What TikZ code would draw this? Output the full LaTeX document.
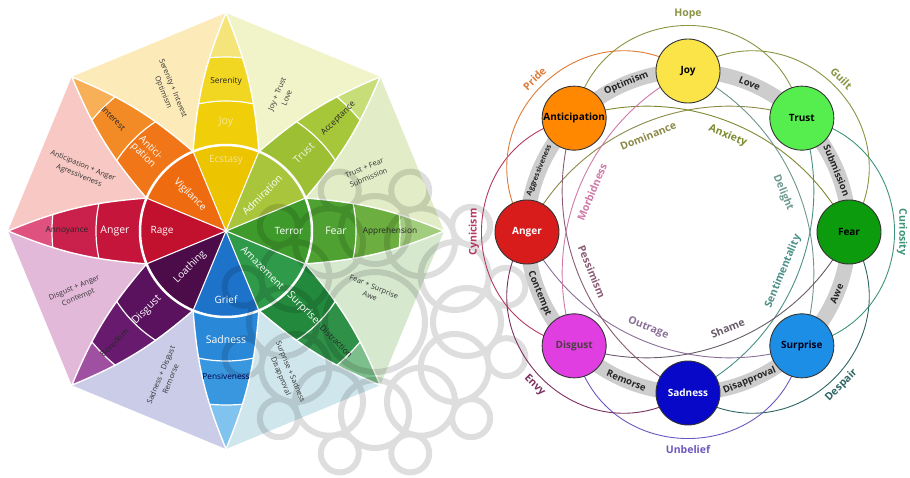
\documentclass[tikz,border=0pt]{standalone}
\usepackage{fontspec}
\setmainfont{Open Sans}
% left wheel colours
\definecolor{jA}{HTML}{ECC400}\definecolor{jB}{HTML}{F0CF0A}\definecolor{jC}{HTML}{F2D722}\definecolor{jD}{HTML}{F4E47A}
\definecolor{tA}{HTML}{A9C53C}\definecolor{tB}{HTML}{9DBF33}\definecolor{tC}{HTML}{A7C73B}\definecolor{tD}{HTML}{C7DD78}
\definecolor{fA}{HTML}{3F9A2C}\definecolor{fB}{HTML}{4FA232}\definecolor{fC}{HTML}{6CAF40}\definecolor{fD}{HTML}{A2CD7C}
\definecolor{sA}{HTML}{2F9A4A}\definecolor{sB}{HTML}{23893D}\definecolor{sC}{HTML}{2F9048}\definecolor{sD}{HTML}{7DBF8C}
\definecolor{saA}{HTML}{1D72C9}\definecolor{saB}{HTML}{2A88D8}\definecolor{saC}{HTML}{3997E0}\definecolor{saD}{HTML}{80C3EE}
\definecolor{dA}{HTML}{4B0C49}\definecolor{dB}{HTML}{5A115E}\definecolor{dC}{HTML}{681B6E}\definecolor{dD}{HTML}{A050A0}
\definecolor{aA}{HTML}{C2112E}\definecolor{aB}{HTML}{C5153B}\definecolor{aC}{HTML}{CA214C}\definecolor{aD}{HTML}{DF5280}
\definecolor{nA}{HTML}{EE6B10}\definecolor{nB}{HTML}{F07617}\definecolor{nC}{HTML}{F28B25}\definecolor{nD}{HTML}{F7B058}
\definecolor{triOpt}{HTML}{FCEBB8}\definecolor{triLove}{HTML}{F1F4C9}\definecolor{triSub}{HTML}{E2EDC7}\definecolor{triAwe}{HTML}{D6E9CF}
\definecolor{triDis}{HTML}{CFE6EC}\definecolor{triRem}{HTML}{CACCE8}\definecolor{triCon}{HTML}{E2B9D8}\definecolor{triAgg}{HTML}{F8C9C4}
% right diagram colours
\definecolor{cJoy}{HTML}{FAE448}\definecolor{cTrust}{HTML}{56EE4E}\definecolor{cFear}{HTML}{0C9B0C}\definecolor{cSurprise}{HTML}{1C8EE6}
\definecolor{cSadness}{HTML}{0808C8}\definecolor{cDisgust}{HTML}{E03EE0}\definecolor{cAnger}{HTML}{D81C1C}\definecolor{cAntic}{HTML}{FF8800}
\definecolor{bandgray}{HTML}{CDCDCD}
\definecolor{kHope}{HTML}{8A9444}\definecolor{kGuilt}{HTML}{8A9444}\definecolor{kCurio}{HTML}{3E9478}\definecolor{kDespair}{HTML}{2E6664}
\definecolor{kUnbel}{HTML}{6E58C0}\definecolor{kEnvy}{HTML}{7A3060}\definecolor{kCyn}{HTML}{B43A62}\definecolor{kPride}{HTML}{E07A38}
\definecolor{kDom}{HTML}{8C8A48}\definecolor{kAnx}{HTML}{7E8A30}\definecolor{kDel}{HTML}{6E9A90}\definecolor{kSent}{HTML}{4A9088}
\definecolor{kShame}{HTML}{6A5C6A}\definecolor{kOut}{HTML}{8A7098}\definecolor{kPess}{HTML}{8C5C74}\definecolor{kMorb}{HTML}{D07AA8}
\newcommand\wpetal[5]{%
  \begin{scope}
    \clip (0,0) -- ({#1-22.5}:86) to[bend right=9] (#1:218) to[bend right=9] ({#1+22.5}:86) -- cycle;
    \fill[#5] (0,0) circle (230);
    \fill[#4] (0,0) circle (174);
    \fill[#3] (0,0) circle (130);
    \fill[#2] (0,0) circle (86);
    \draw[white, line width=1.2] (0,0) circle (130) (0,0) circle (174);
  \end{scope}
  \draw[white, line width=1.4] ({#1-22.5}:86) to[bend right=9] (#1:218) to[bend right=9] ({#1+22.5}:86);
}
\begin{document}
\begin{tikzpicture}[x=1pt,y=1pt,
  wl/.style={inner sep=0pt, text=white, font=\fontsize{10}{10}\selectfont},
  wm/.style={inner sep=0pt, text=white, font=\fontsize{10.5}{10.5}\selectfont},
  wd/.style={inner sep=0pt, text=black!85, font=\fontsize{8.3}{8.3}\selectfont},
  tri/.style={inner sep=0pt, text=black!80, align=center, font=\fontsize{7.4}{10.5}\selectfont},
  emo/.style={circle, draw=black!80, line width=0.9, minimum size=64pt, inner sep=0pt, font=\bfseries\fontsize{10}{10}\selectfont},
  bandline/.style={line width=15pt, bandgray},
  bandlbl/.style={inner sep=0pt, text=black!85, font=\bfseries\fontsize{9.5}{9.5}\selectfont},
  dlbl/.style={inner sep=0pt, font=\bfseries\fontsize{10.5}{10.5}\selectfont},
  obend/.style={bend left=78.6, looseness=1.42},
  ibend/.style={bend left=41.3, looseness=0.972},
  arcline/.style={line width=0.9pt}
]
\useasboundingbox (0,0) rectangle (910,477);
\fill[white] (0,0) rectangle (910,477);

% ---------- left wheel ----------
\begin{scope}[shift={(226,246)}]
  \fill[triOpt]  (0,0) -- (135:218) -- (90:218) -- cycle;
  \fill[triLove] (0,0) -- (90:218) -- (45:218) -- cycle;
  \fill[triSub]  (0,0) -- (45:218) -- (0:218) -- cycle;
  \fill[triAwe]  (0,0) -- (0:218) -- (-45:218) -- cycle;
  \fill[triDis]  (0,0) -- (-45:218) -- (-90:218) -- cycle;
  \fill[triRem]  (0,0) -- (-90:218) -- (-135:218) -- cycle;
  \fill[triCon]  (0,0) -- (-135:218) -- (180:218) -- cycle;
  \fill[triAgg]  (0,0) -- (180:218) -- (135:218) -- cycle;
  \wpetal{90}{jA}{jB}{jC}{jD}
  \wpetal{45}{tA}{tB}{tC}{tD}
  \wpetal{0}{fA}{fB}{fC}{fD}
  \wpetal{-45}{sA}{sB}{sC}{sD}
  \wpetal{-90}{saA}{saB}{saC}{saD}
  \wpetal{-135}{dA}{dB}{dC}{dD}
  \wpetal{180}{aA}{aB}{aC}{aD}
  \wpetal{135}{nA}{nB}{nC}{nD}
  \foreach \a in {22.5,67.5,...,337.5} { \draw[white, line width=1.1] (0,0) -- (\a:86); }
  \draw[white, line width=2.5] (0,0) circle (86);
\end{scope}

% ---------- watermark ornament (semi-transparent, one stroke) ----------
\begin{scope}[shift={(375,155)}]
  \draw[black, draw opacity=0.13, line width=6pt]
    (0,0) circle (50)
    \foreach \k in {0,30,...,330} { (\k:92) circle (34) }
    \foreach \k in {15,45,...,345} { (\k:136) circle (19) };
\end{scope}

\begin{scope}[shift={(226,246)}]
  % petal labels
  \node[wl, text opacity=.55] (lEcs) at (90:71) {Ecstasy};
  \node[wm, text opacity=.55] (lJoy) at (90:109) {Joy};
  \node[wd] (lSer) at (90:150) {Serenity};
  \node[wl, rotate=45] (lAdm) at (45:51) {Admiration};
  \node[wm, rotate=45, text opacity=.85] (lTru) at (45:110) {Trust};
  \node[wd, rotate=45] (lAcc) at (45:159) {Acceptance};
  \node[wl] (lTer) at (0:63) {Terror};
  \node[wm] (lFea) at (0:110) {Fear};
  \node[wd] (lApp) at (0:164) {Apprehension};
  \node[wl, rotate=-45] (lAma) at (-45:52) {Amazement};
  \node[wm, rotate=-45] (lSur) at (-45:109) {Surprise};
  \node[wd, rotate=-45] (lDis) at (-45:156) {Distraction};
  \node[wl] (lGri) at (-90:69) {Grief};
  \node[wm] (lSad) at (-90:109) {Sadness};
  \node[wd, text=blue!30!black] (lPen) at (-90:145) {Pensiveness};
  \node[wl, rotate=45] (lLoa) at (-135:51) {Loathing};
  \node[wm, rotate=45] (lDsg) at (-135:112) {Disgust};
  \node[wd, rotate=45] (lBor) at (-135:158) {Boredom};
  \node[wl] (lRag) at (180:64) {Rage};
  \node[wm] (lAng) at (180:111) {Anger};
  \node[wd] (lAnn) at (180:159) {Annoyance};
  \node[wl, rotate=-45] (lVig) at (135:51) {Vigilance};
  \node[wm, rotate=-45, align=center, font=\fontsize{10}{10.5}\selectfont] (lAnt) at (135:112) {Antici-\\pation};
  \node[wd, rotate=-45] (lInt) at (135:159) {Interest};
  % dyad labels
  \node[tri, rotate=-67.5] (tOpt) at (112.5:152) {Serenity + Interest\\Optimism};
  \node[tri, rotate=67.5] (tLov) at (67.5:146) {Joy + Trust\\Love};
  \node[tri, rotate=22.5] (tSub) at (22.5:152) {Trust + Fear\\Submission};
  \node[tri, rotate=-22.5] (tAwe) at (-22.5:158) {Fear + Surprise\\Awe};
  \node[tri, rotate=-67.5] (tDis) at (-67.5:155) {Surprise + Sadness\\Disapproval};
  \node[tri, rotate=67.5] (tRem) at (-112.5:158) {Sadness + Disgust\\Remorse};
  \node[tri, rotate=22.5] (tCon) at (-157.5:162) {Disgust + Anger\\Contempt};
  \node[tri, rotate=-22.5] (tAgg) at (157.5:157) {Anticipation + Anger\\Agressiveness};
\end{scope}

% ---------- right diagram ----------
\begin{scope}[shift={(688,245)}]
  \coordinate (pJoy) at (90:161);
  \coordinate (pTrust) at (45:161);
  \coordinate (pFear) at (0:161);
  \coordinate (pSurprise) at (-45:161);
  \coordinate (pSadness) at (-90:161);
  \coordinate (pDisgust) at (-135:161);
  \coordinate (pAnger) at (180:161);
  \coordinate (pAntic) at (135:161);
  % outer (secondary) dyads
  \draw[arcline, kHope] (pAntic) to[obend] (pTrust);
  \draw[arcline, kGuilt] (pJoy) to[obend] (pFear);
  \draw[arcline, kCurio] (pTrust) to[obend] (pSurprise);
  \draw[arcline, kDespair] (pFear) to[obend] (pSadness);
  \draw[arcline, kUnbel] (pSurprise) to[obend] (pDisgust);
  \draw[arcline, kEnvy] (pSadness) to[obend] (pAnger);
  \draw[arcline, kCyn] (pDisgust) to[obend] (pAntic);
  \draw[arcline, kPride] (pAnger) to[obend] (pJoy);
  % inner (tertiary) dyads
  \draw[arcline, kDom] (pAnger) to[ibend] (pTrust);
  \draw[arcline, kAnx] (pAntic) to[ibend] (pFear);
  \draw[arcline, kDel!80!gray] (pJoy) to[ibend] (pSurprise);
  \draw[arcline, kSent] (pTrust) to[ibend] (pSadness);
  \draw[arcline, kShame] (pFear) to[ibend] (pDisgust);
  \draw[arcline, kOut] (pSurprise) to[ibend] (pAnger);
  \draw[arcline, kPess] (pSadness) to[ibend] (pAntic);
  \draw[arcline, kMorb] (pDisgust) to[ibend] (pJoy);
  % primary dyad bands
  \draw[bandline] (pAntic) arc[start angle=135, end angle=90, radius=161];
  \draw[bandline] (pJoy) arc[start angle=90, end angle=45, radius=161];
  \draw[bandline] (pTrust) arc[start angle=45, end angle=0, radius=161];
  \draw[bandline] (pFear) arc[start angle=0, end angle=-45, radius=161];
  \draw[bandline] (pSurprise) arc[start angle=-45, end angle=-90, radius=161];
  \draw[bandline] (pSadness) arc[start angle=-90, end angle=-135, radius=161];
  \draw[bandline] (pDisgust) arc[start angle=-135, end angle=-180, radius=161];
  \draw[bandline] (pAnger) arc[start angle=180, end angle=135, radius=161];
  \node[bandlbl, rotate=22.5] (bOpt) at (112.5:161) {Optimism};
  \node[bandlbl, rotate=-22.5] (bLov) at (67.5:161) {Love};
  \node[bandlbl, rotate=-67.5] (bSub) at (22.5:161) {Submission};
  \node[bandlbl, rotate=67.5] (bAwe) at (-22.5:161) {Awe};
  \node[bandlbl, rotate=22.5] (bDis) at (-67.5:161) {Disapproval};
  \node[bandlbl, rotate=-22.5] (bRem) at (-112.5:161) {Remorse};
  \node[bandlbl, rotate=-67.5] (bCon) at (-157.5:161) {Contempt};
  \node[bandlbl, rotate=67.5, font=\bfseries\fontsize{7.2}{7.2}\selectfont] (bAgg) at (157.5:161) {Aggressiveness};
  % emotion circles
  \node[emo, fill=cJoy] (joy) at (pJoy) {Joy};
  \node[emo, fill=cTrust] (trust) at (pTrust) {Trust};
  \node[emo, fill=cFear] (fear) at (pFear) {Fear};
  \node[emo, fill=cSurprise, text=black!90!blue] (surprise) at (pSurprise) {Surprise};
  \node[emo, fill=cSadness, text=white] (sadness) at (pSadness) {Sadness};
  \node[emo, fill=cDisgust, text=black!80!magenta] (disgust) at (pDisgust) {Disgust};
  \node[emo, fill=cAnger, text=white] (anger) at (pAnger) {Anger};
  \node[emo, fill=cAntic] (antic) at (pAntic) {Anticipation};
  % outer labels
  \node[dlbl, text=kHope] (oHope) at (90:218) {Hope};
  \node[dlbl, text=kGuilt, rotate=-45] (oGuilt) at (45:217) {Guilt};
  \node[dlbl, text=kCurio, rotate=-90] (oCur) at (0:214) {Curiosity};
  \node[dlbl, text=kDespair, rotate=45] (oDes) at (-45:217) {Despair};
  \node[dlbl, text=kUnbel] (oUnb) at (-90:218) {Unbelief};
  \node[dlbl, text=kEnvy, rotate=-45] (oEnv) at (-135:217) {Envy};
  \node[dlbl, text=kCyn, rotate=90] (oCyn) at (180:214) {Cynicism};
  \node[dlbl, text=kPride, rotate=45] (oPri) at (135:217) {Pride};
  % inner labels
  \node[dlbl, text=kDom, rotate=22.5] (iDom) at (112.5:104) {Dominance};
  \node[dlbl, text=kAnx, rotate=-22.5] (iAnx) at (67.5:104) {Anxiety};
  \node[dlbl, text=kDel, rotate=-67.5] (iDel) at (22.5:103) {Delight};
  \node[dlbl, text=kSent, rotate=67.5] (iSen) at (-22.5:103) {Sentimentality};
  \node[dlbl, text=kShame, rotate=22.5] (iSha) at (-67.5:104) {Shame};
  \node[dlbl, text=kOut, rotate=-22.5] (iOut) at (-112.5:104) {Outrage};
  \node[dlbl, text=kPess, rotate=-67.5] (iPes) at (-157.5:104) {Pessimism};
  \node[dlbl, text=kMorb, rotate=67.5] (iMor) at (157.5:104) {Morbidness};
\end{scope}
\end{tikzpicture}
\end{document}
